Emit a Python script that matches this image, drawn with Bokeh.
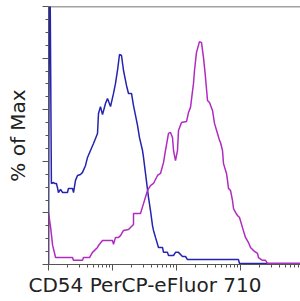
from bokeh.plotting import figure
from bokeh.models import Range1d, LogTicker, SingleIntervalTicker, Span, Title
from bokeh.embed import file_html
from bokeh.resources import INLINE

# Fluorescence intensity (log scale) and % of Max for each histogram
blue_x = [100, 104, 111, 120, 124, 133, 138, 143, 154, 166, 198, 205, 237, 246, 264,
          284, 316, 340, 379, 407, 453, 505, 583, 604, 649, 698, 777, 835, 931, 1037,
          1114, 1197, 1287, 1383, 1486, 1655, 1778, 1981, 2129, 2288, 2459, 2642, 2943,
          3051, 3652, 3924, 4217, 4372, 4698, 5233, 6043, 6266, 7234, 7499, 8979, 9647,
          10746, 12409, 13826, 14858, 93057, 96466, 870000]
blue_y = [0, 140, 31.4, 31.8, 31.4, 31.4, 29.8, 27.9, 29.1, 27.9, 27.9, 29.5, 29.5, 27.9,
          32.6, 34.5, 34.9, 35.7, 38.4, 41.5, 44.2, 46.9, 50.8, 58.5, 61.2, 58.1, 62.4,
          64.3, 61.2, 66.3, 70.2, 75.2, 81.4, 81.0, 75.2, 69.4, 66.3, 66.3, 61.6, 57.8,
          53.9, 49.2, 44.2, 41.5, 26.0, 20.9, 15.1, 13.2, 10.5, 6.6, 6.6, 4.7, 4.7, 3.5,
          3.5, 4.7, 4.7, 3.1, 3.1, 1.9, 1.9, 0.4, 0.4]

purple_x = [100, 100, 108, 116, 129, 237, 246, 340, 352, 437, 487, 583, 604, 698, 1000,
            1037, 1114, 1241, 1334, 1486, 1778, 2129, 2129, 2738, 3051, 3524, 3924, 4372,
            5049, 5623, 6266, 6732, 7499, 8058, 8660, 8979, 9647, 10366, 10746, 11973,
            14330, 15399, 16548, 18435, 19108, 20535, 22878, 24582, 26421, 28393, 30508,
            32780, 36517, 39242, 43707, 46978, 48697, 52330, 54258, 60430, 62660, 64938,
            69780, 74989, 77734, 83536, 89788, 96466, 107460, 119700, 133352, 143330,
            159650, 184340, 191070, 220740, 245820, 264140, 870000]
purple_y = [0, 20.2, 14.3, 7.4, 2.7, 2.7, 1.6, 1.6, 2.7, 2.7, 4.7, 6.6, 7.4, 9.3, 9.3,
            7.8, 10.5, 10.5, 11.2, 13.2, 13.6, 15.5, 19.8, 19.8, 23.6, 28.7, 30.6, 31.4,
            34.5, 35.3, 39.5, 44.2, 50.8, 51.2, 49.2, 44.2, 40.3, 44.2, 51.9, 55.0, 55.4,
            58.9, 60.9, 70.2, 75.2, 82.2, 86.4, 86.0, 80.2, 72.5, 63.6, 62.8, 59.7, 54.7,
            50.8, 48.1, 47.3, 44.2, 39.1, 35.3, 32.6, 29.5, 28.7, 24.8, 21.7, 20.2, 19.0,
            18.2, 14.3, 10.5, 8.5, 6.6, 5.4, 4.3, 2.7, 1.6, 1.6, 0.4, 0.4]

x_label = "CD54 PerCP-eFluor 710"
y_label = "% of Max"

p = figure(width=300, height=306, x_axis_type="log",
           x_range=Range1d(100, 866000), y_range=Range1d(0, 100),
           output_backend="svg", toolbar_location=None,
           min_border_left=48, min_border_right=0, min_border_top=6,
           min_border_bottom=42, margin=(0, 0, -5, 0))
p.grid.visible = False
p.outline_line_color = None
p.background_fill_color = "white"
p.border_fill_color = "white"

axis_color = "#555555"
for ax in (p.xaxis[0], p.yaxis[0]):
    ax.axis_line_color = axis_color
    ax.major_tick_line_color = axis_color
    ax.minor_tick_line_color = axis_color
    ax.major_tick_in = 0
    ax.major_tick_out = 6
    ax.minor_tick_in = 0
    ax.minor_tick_out = 3
    ax.major_label_text_font_size = "1px"
    ax.major_label_text_alpha = 0
    ax.major_label_standoff = 0
    ax.axis_label_text_font = "DejaVu Sans"
    ax.axis_label_text_font_size = "20px"
    ax.axis_label_text_font_style = "normal"
    ax.axis_label_text_color = "#222222"

p.xaxis.ticker = LogTicker(num_minor_ticks=10)
p.yaxis.ticker = SingleIntervalTicker(interval=20, num_minor_ticks=4)
p.yaxis.axis_label = y_label
p.yaxis.axis_label_standoff = 13

p.add_layout(Title(text=x_label, align="left", offset=-20, standoff=0,
                   text_font="DejaVu Sans", text_font_size="20px",
                   text_font_style="normal", text_color="#222222"), "below")

p.add_layout(Span(location=100, dimension="width", line_color="#444444", line_width=1.5))

p.line(blue_x, blue_y, line_color="#2424b0", line_width=1.5)
p.line(purple_x, purple_y, line_color="#b02cc0", line_width=1.5)

open("out.html", "w").write(file_html(p, INLINE))
